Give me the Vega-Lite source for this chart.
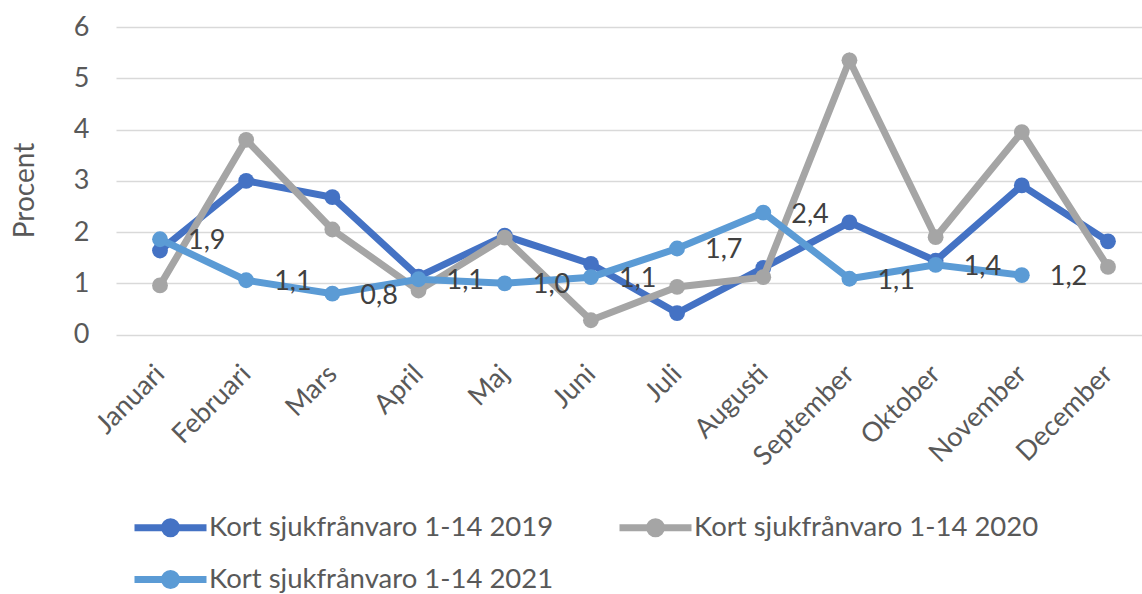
{
  "$schema": "https://vega.github.io/schema/vega-lite/v6.json",
  "autosize": {"type": "none"},
  "width": 1026,
  "height": 307.6,
  "padding": {"left": 116, "top": 27, "right": 0, "bottom": 259.4},
  "background": "white",
  "config": {
    "font": "Lato",
    "locale": {"number": {"decimal": ",", "thousands": "\u00a0", "grouping": [3], "currency": ["", " kr"]}},
    "view": {"stroke": null},
    "axis": {"labelFont": "Lato", "titleFont": "Lato", "labelColor": "#595959", "titleColor": "#595959", "domain": false, "ticks": false, "tickSize": 0},
    "legend": {
      "symbolType": "M-2,0H2M-0.333,0a0.333,0.333 0 1,0 0.667,0a0.333,0.333 0 1,0 -0.667,0M-0.14,0a0.14,0.14 0 1,0 0.28,0a0.14,0.14 0 1,0 -0.28,0",
      "symbolSize": 1296,
      "symbolStrokeWidth": 7,
      "labelFont": "Lato",
      "labelFontSize": 27.5,
      "labelColor": "#595959",
      "labelOffset": 17,
      "labelLimit": 0,
      "padding": 0,
      "rowPadding": 10,
      "columnPadding": 51
    }
  },
  "data": {
    "values": [
      {"month": "Januari", "series": "Kort sjukfrånvaro 1-14 2019", "value": 1.64},
      {"month": "Februari", "series": "Kort sjukfrånvaro 1-14 2019", "value": 3.0},
      {"month": "Mars", "series": "Kort sjukfrånvaro 1-14 2019", "value": 2.68},
      {"month": "April", "series": "Kort sjukfrånvaro 1-14 2019", "value": 1.13},
      {"month": "Maj", "series": "Kort sjukfrånvaro 1-14 2019", "value": 1.93},
      {"month": "Juni", "series": "Kort sjukfrånvaro 1-14 2019", "value": 1.38},
      {"month": "Juli", "series": "Kort sjukfrånvaro 1-14 2019", "value": 0.42},
      {"month": "Augusti", "series": "Kort sjukfrånvaro 1-14 2019", "value": 1.3},
      {"month": "September", "series": "Kort sjukfrånvaro 1-14 2019", "value": 2.19},
      {"month": "Oktober", "series": "Kort sjukfrånvaro 1-14 2019", "value": 1.44},
      {"month": "November", "series": "Kort sjukfrånvaro 1-14 2019", "value": 2.91},
      {"month": "December", "series": "Kort sjukfrånvaro 1-14 2019", "value": 1.82},
      {"month": "Januari", "series": "Kort sjukfrånvaro 1-14 2020", "value": 0.96},
      {"month": "Februari", "series": "Kort sjukfrånvaro 1-14 2020", "value": 3.8},
      {"month": "Mars", "series": "Kort sjukfrånvaro 1-14 2020", "value": 2.05},
      {"month": "April", "series": "Kort sjukfrånvaro 1-14 2020", "value": 0.86},
      {"month": "Maj", "series": "Kort sjukfrånvaro 1-14 2020", "value": 1.89},
      {"month": "Juni", "series": "Kort sjukfrånvaro 1-14 2020", "value": 0.28},
      {"month": "Juli", "series": "Kort sjukfrånvaro 1-14 2020", "value": 0.93},
      {"month": "Augusti", "series": "Kort sjukfrånvaro 1-14 2020", "value": 1.12},
      {"month": "September", "series": "Kort sjukfrånvaro 1-14 2020", "value": 5.35},
      {"month": "Oktober", "series": "Kort sjukfrånvaro 1-14 2020", "value": 1.9},
      {"month": "November", "series": "Kort sjukfrånvaro 1-14 2020", "value": 3.95},
      {"month": "December", "series": "Kort sjukfrånvaro 1-14 2020", "value": 1.32},
      {"month": "Januari", "series": "Kort sjukfrånvaro 1-14 2021", "value": 1.86},
      {"month": "Februari", "series": "Kort sjukfrånvaro 1-14 2021", "value": 1.06},
      {"month": "Mars", "series": "Kort sjukfrånvaro 1-14 2021", "value": 0.8},
      {"month": "April", "series": "Kort sjukfrånvaro 1-14 2021", "value": 1.08},
      {"month": "Maj", "series": "Kort sjukfrånvaro 1-14 2021", "value": 1.0},
      {"month": "Juni", "series": "Kort sjukfrånvaro 1-14 2021", "value": 1.12},
      {"month": "Juli", "series": "Kort sjukfrånvaro 1-14 2021", "value": 1.68},
      {"month": "Augusti", "series": "Kort sjukfrånvaro 1-14 2021", "value": 2.38},
      {"month": "September", "series": "Kort sjukfrånvaro 1-14 2021", "value": 1.09},
      {"month": "Oktober", "series": "Kort sjukfrånvaro 1-14 2021", "value": 1.36},
      {"month": "November", "series": "Kort sjukfrånvaro 1-14 2021", "value": 1.16}
    ]
  },
  "encoding": {
    "x": {
      "field": "month", "type": "nominal",
      "sort": ["Januari", "Februari", "Mars", "April", "Maj", "Juni", "Juli", "Augusti", "September", "Oktober", "November", "December"],
      "scale": {"type": "point", "padding": 0.4526, "align": 0.564},
      "axis": {"title": null, "labelAngle": -45, "labelAlign": "right", "labelBaseline": "middle", "labelFontSize": 27, "labelPadding": 35, "grid": false}
    },
    "y": {
      "field": "value", "type": "quantitative",
      "scale": {"domain": [0, 6], "nice": false},
      "axis": {"title": "Procent", "titleFontSize": 28, "titleFontWeight": "normal", "titlePadding": 34, "titleY": 163, "values": [0, 1, 2, 3, 4, 5, 6], "labelFontSize": 27, "labelPadding": 27, "grid": true, "gridColor": "#d9d9d9", "gridWidth": 1.5}
    },
    "color": {
      "field": "series", "type": "nominal",
      "scale": {"domain": ["Kort sjukfrånvaro 1-14 2019", "Kort sjukfrånvaro 1-14 2020", "Kort sjukfrånvaro 1-14 2021"], "range": ["#4472C4", "#A5A5A5", "#5B9BD5"]},
      "legend": {"title": null, "orient": "none", "legendX": 33, "legendY": 479, "direction": "horizontal", "columns": 2}
    }
  },
  "layer": [
    {
      "transform": [{"filter": "datum.series === 'Kort sjukfrånvaro 1-14 2019'"}],
      "mark": {"type": "line", "strokeWidth": 7, "point": {"filled": true, "size": 250, "opacity": 1}}
    },
    {
      "transform": [{"filter": "datum.series === 'Kort sjukfrånvaro 1-14 2020'"}],
      "mark": {"type": "line", "strokeWidth": 7, "point": {"filled": true, "size": 250, "opacity": 1}}
    },
    {
      "transform": [{"filter": "datum.series === 'Kort sjukfrånvaro 1-14 2021'"}],
      "mark": {"type": "line", "strokeWidth": 7, "point": {"filled": true, "size": 250, "opacity": 1}}
    },
    {
      "transform": [{"filter": "datum.series === 'Kort sjukfrånvaro 1-14 2021'"}],
      "mark": {"type": "text", "align": "left", "baseline": "middle", "dx": 28, "dy": 2, "fontSize": 27, "color": "#404040", "font": "Lato"},
      "encoding": {
        "text": {"field": "value", "type": "quantitative", "format": ".1f"},
        "color": {"value": "#404040"}
      }
    }
  ]
}
